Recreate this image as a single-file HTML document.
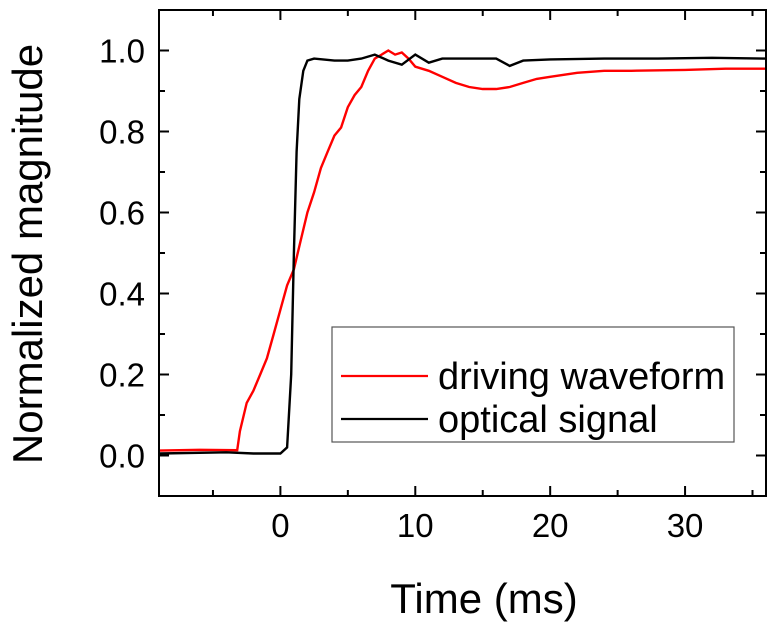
<!DOCTYPE html>
<html><head><meta charset="utf-8"><style>
body{margin:0;background:#fff;width:775px;height:632px;overflow:hidden;position:relative}
text{font-family:"Liberation Sans",Arial,sans-serif}
</style></head><body>
<svg id="chart" width="775" height="632" xmlns="http://www.w3.org/2000/svg"></svg>
<script>
const xTicks=[0,10,20,30];
const xMinor=[-5,0,5,10,15,20,25,30,35];
const yTicks=[0.0,0.2,0.4,0.6,0.8,1.0];
const yTickLabels=["0.0","0.2","0.4","0.6","0.8","1.0"];
const yMinor=[-0.1,0,0.1,0.2,0.3,0.4,0.5,0.6,0.7,0.8,0.9,1.0,1.1];
const redT=[-9,-6,-3.2,-3,-2.5,-2,-1.5,-1,-0.5,0,0.5,1,1.5,2,2.5,3,3.5,4,4.5,5,5.5,6,6.5,7,7.5,8,8.5,9,9.5,10,11,12,13,14,15,16,17,18,19,20,21,22,24,26,30,33,36];
const redV=[0.012,0.014,0.013,0.06,0.13,0.16,0.2,0.24,0.3,0.36,0.42,0.46,0.53,0.6,0.65,0.71,0.75,0.79,0.81,0.86,0.89,0.91,0.95,0.98,0.99,1.0,0.99,0.995,0.98,0.96,0.95,0.935,0.92,0.91,0.905,0.905,0.91,0.92,0.93,0.935,0.94,0.945,0.95,0.95,0.952,0.955,0.955];
const blackT=[-9,-4,-2,0,0.5,0.8,1.0,1.2,1.4,1.7,2.0,2.5,4,5,6,7,8,9,10,11,12,14,16,17,18,20,24,28,32,36];
const blackV=[0.005,0.008,0.005,0.005,0.02,0.2,0.5,0.75,0.88,0.95,0.975,0.98,0.975,0.975,0.98,0.99,0.975,0.965,0.99,0.97,0.98,0.98,0.98,0.962,0.975,0.978,0.98,0.98,0.982,0.98];
const L=159,R=766,T=10,B=496,X0=-9,X1=36,Y0=-0.1,Y1=1.1;
const sx=v=>L+(v-X0)/(X1-X0)*(R-L);
const sy=v=>B-(v-Y0)/(Y1-Y0)*(B-T);
const svg=document.getElementById('chart');
const NS='http://www.w3.org/2000/svg';
function mk(tag,attrs,parent){const e=document.createElementNS(NS,tag);for(const k in attrs)e.setAttribute(k,attrs[k]);(parent||svg).appendChild(e);return e;}
xMinor.forEach(v=>{const maj=xTicks.includes(v);const len=maj?10:6;
 let t=mk('line',{x1:sx(v),x2:sx(v),y1:B,y2:B-len,stroke:'#000','stroke-width':2});
 
 t=mk('line',{x1:sx(v),x2:sx(v),y1:T,y2:T+len,stroke:'#000','stroke-width':2});
 });
yMinor.forEach(v=>{const maj=yTicks.some(y=>Math.abs(y-v)<1e-9);const len=maj?10:6;
 let t=mk('line',{x1:L,x2:L+len,y1:sy(v),y2:sy(v),stroke:'#000','stroke-width':2});
 
 t=mk('line',{x1:R,x2:R-len,y1:sy(v),y2:sy(v),stroke:'#000','stroke-width':2});
 });
xTicks.forEach(v=>{const t=mk('text',{x:sx(v),y:537,'font-size':33,'text-anchor':'middle'});t.textContent=v;
 });
yTicks.forEach((v,i)=>{const t=mk('text',{x:145,y:sy(v)+12,'font-size':33,'text-anchor':'end'});t.textContent=yTickLabels[i];
 });
function series(ts,vs,color,name){let d='';ts.forEach((t,i)=>{d+=(i?'L':'M')+sx(t).toFixed(1)+','+sy(vs[i]).toFixed(1);});
 const p=mk('path',{d:d,fill:'none',stroke:color,'stroke-width':2.4});}
series(redT,redV,'#f00','driving-waveform-line');
series(blackT,blackV,'#000','optical-signal-line');
let f=mk('rect',{x:L,y:T,width:R-L,height:B-T,fill:'none',stroke:'#000','stroke-width':2});

</script>
<svg style="position:absolute;left:0;top:0" width="775" height="632">
<g>
<rect x="332" y="327" width="402" height="115" fill="#fff" stroke="#555" stroke-width="1.2"/>
<line x1="341" y1="376" x2="428" y2="376" stroke="#f00" stroke-width="2.2"/>
<text x="438" y="389" font-size="38">driving waveform</text>
<line x1="341" y1="419" x2="428" y2="419" stroke="#000" stroke-width="2.2"/>
<text x="438" y="432" font-size="38">optical signal</text>
</g>
<text x="484" y="613" font-size="42" text-anchor="middle">Time (ms)</text>
<text transform="translate(42,254) rotate(-90)" font-size="42" text-anchor="middle">Normalized magnitude</text>
</svg>
</body></html>
